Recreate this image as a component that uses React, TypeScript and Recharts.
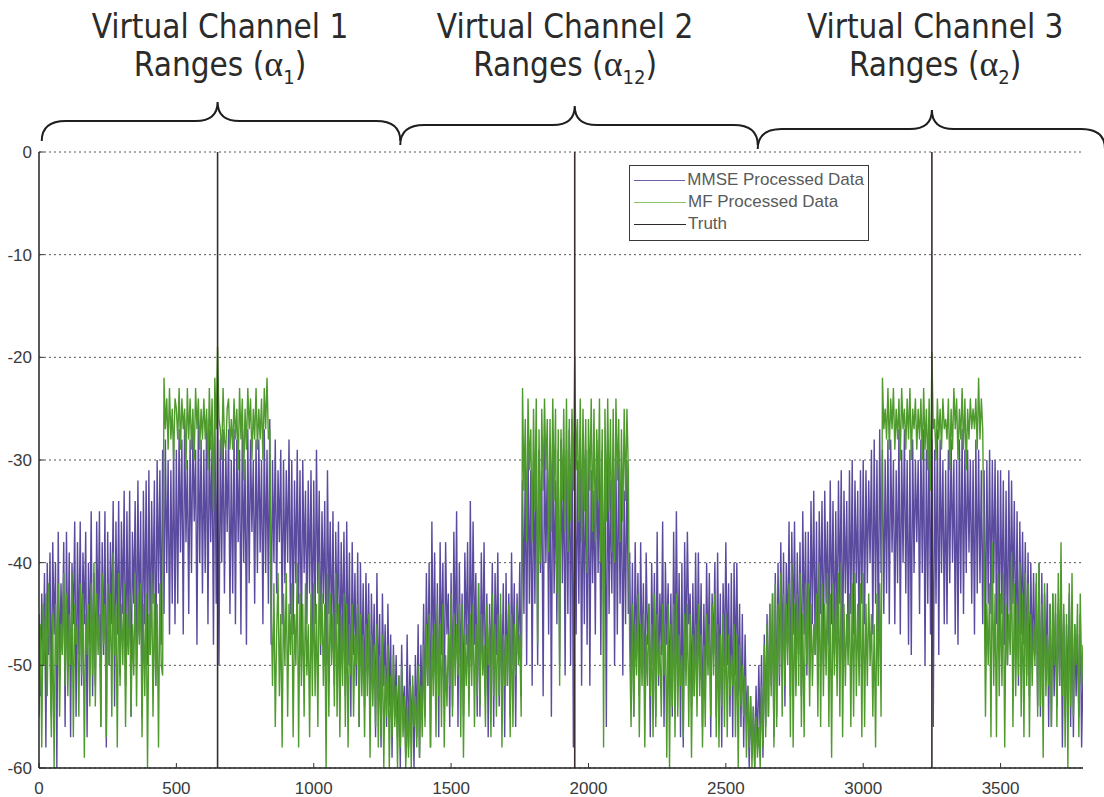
import React from "react";
import {
  LineChart,
  Line,
  XAxis,
  YAxis,
  CartesianGrid,
  ReferenceArea,
  Legend,
} from "recharts";

// range bins are sampled every 5 units, 0..3800
const sampleStep = 5;

// MMSE processed returns (dB), one row per 100 range units
const mmseVc1 = [
  -45, -53, -43, -50, -41, -58, -40, -49, -39, -55, -38, -47, -40, -60, -37, -51, -42, -48, -38, -56,
  -37, -50, -39, -57, -40, -46, -36, -55, -38, -49, -36, -52, -39, -46, -37, -57, -40, -48, -35, -53,
  -41, -52, -36, -47, -35, -56, -38, -49, -35, -58, -37, -50, -38, -46, -34, -54, -36, -47, -34, -51,
  -36, -45, -33, -52, -35, -48, -33, -55, -37, -44, -34, -50, -32, -47, -35, -55, -33, -46, -32, -50,
  -31, -49, -34, -44, -32, -52, -30, -43, -31, -48, -29, -45, -28, -41, -30, -47, -31, -44, -28, -46,
  -29, -44, -27, -39, -28, -47, -26, -38, -30, -45, -28, -41, -27, -36, -29, -48, -26, -40, -28, -43,
  -29, -41, -26, -46, -27, -38, -28, -48, -25, -44, -26, -50, -28, -40, -27, -43, -29, -37, -27, -45,
  -30, -43, -27, -46, -28, -38, -29, -47, -27, -40, -30, -48, -27, -42, -28, -37, -30, -44, -28, -41,
  -28, -39, -30, -46, -27, -41, -29, -44, -26, -48, -30, -40, -28, -43, -31, -38, -29, -46, -30, -42,
  -31, -40, -28, -45, -30, -47, -32, -42, -29, -44, -31, -49, -30, -41, -33, -46, -32, -43, -31, -48,
  -32, -46, -29, -43, -33, -49, -35, -44, -34, -50, -31, -45, -36, -48, -35, -52, -37, -46, -36, -51,
  -38, -48, -37, -53, -36, -50, -39, -55, -38, -49, -41, -52, -39, -56, -40, -51, -42, -54, -41, -50,
  -42, -55, -43, -51, -44, -57, -41, -53, -45, -58, -43, -52, -46, -56, -44, -54, -47, -59, -48, -55,
];
const mmseVc2 = [
  -49, -57, -51, -60, -48, -55, -52, -59, -47, -58, -50, -56, -52, -60, -49, -57, -46, -59, -48, -55,
  -44, -55, -41, -52, -40, -58, -36, -50, -39, -53, -42, -57, -38, -49, -40, -54, -38, -47, -43, -56,
  -41, -54, -37, -49, -35, -56, -40, -51, -43, -55, -39, -48, -38, -53, -34, -50, -36, -48, -41, -55,
  -42, -55, -39, -50, -38, -53, -43, -57, -44, -51, -40, -56, -41, -49, -39, -54, -45, -52, -42, -57,
  -41, -52, -43, -55, -39, -50, -42, -56, -43, -49, -40, -53, -32, -45, -30, -50, -28, -44, -31, -52,
  -30, -44, -27, -50, -29, -41, -31, -53, -28, -40, -30, -47, -29, -55, -27, -43, -32, -46, -29, -50,
  -28, -42, -30, -51, -29, -45, -27, -50, -26, -58, -29, -47, -30, -44, -28, -52, -31, -46, -29, -48,
  -29, -52, -31, -42, -33, -47, -28, -41, -30, -49, -29, -44, -31, -56, -28, -45, -32, -43, -30, -50,
  -30, -47, -29, -44, -31, -51, -33, -46, -30, -45, -39, -52, -40, -55, -38, -49, -41, -53, -38, -50,
  -42, -54, -39, -48, -44, -57, -40, -50, -41, -55, -37, -52, -43, -49, -36, -56, -40, -48, -42, -53,
  -43, -55, -37, -51, -35, -50, -41, -57, -40, -58, -38, -49, -37, -46, -43, -54, -42, -53, -39, -51,
  -39, -51, -42, -56, -44, -53, -40, -50, -41, -57, -43, -49, -40, -55, -39, -52, -43, -58, -42, -50,
  -38, -50, -42, -55, -41, -57, -40, -51, -40, -53, -44, -56, -45, -58, -47, -55, -52, -60, -53, -59,
];
const mmseVc3 = [
  -54, -60, -52, -58, -50, -57, -49, -59, -47, -56, -45, -55, -44, -52, -43, -57, -41, -55, -40, -52,
  -38, -50, -39, -54, -40, -48, -36, -53, -37, -47, -36, -52, -39, -49, -38, -53, -35, -47, -37, -51,
  -37, -51, -34, -46, -33, -49, -36, -52, -35, -45, -34, -50, -33, -44, -36, -48, -32, -46, -34, -49,
  -35, -47, -32, -44, -31, -50, -33, -43, -34, -48, -31, -45, -30, -47, -32, -42, -33, -49, -31, -44,
  -30, -46, -31, -42, -32, -40, -29, -47, -28, -44, -30, -48, -27, -41, -29, -45, -30, -43, -28, -46,
  -28, -39, -30, -46, -31, -42, -27, -47, -29, -40, -27, -43, -30, -48, -29, -49, -28, -41, -30, -38,
  -30, -45, -28, -41, -27, -50, -29, -44, -26, -47, -28, -56, -29, -44, -27, -49, -28, -41, -30, -46,
  -31, -46, -29, -42, -28, -40, -30, -47, -30, -48, -28, -43, -27, -45, -29, -41, -29, -39, -30, -44,
  -30, -47, -28, -43, -29, -42, -31, -46, -31, -49, -30, -44, -29, -45, -30, -42, -30, -46, -31, -48,
  -31, -45, -32, -48, -33, -50, -31, -46, -32, -44, -34, -49, -35, -52, -36, -47, -37, -48, -38, -51,
  -39, -53, -40, -50, -41, -49, -42, -54, -40, -55, -41, -52, -43, -51, -42, -56, -44, -56, -43, -53,
  -45, -54, -44, -52, -42, -58, -45, -55, -46, -52, -43, -56, -44, -57, -46, -53, -47, -55, -45, -58,
  -50,
];

// matched filter returns (dB)
const mfVc1 = [
  -55, -46, -58, -44, -50, -43, -53, -42, -49, -57, -45, -60, -44, -50, -42, -55, -46, -49, -41, -52,
  -43, -53, -45, -50, -41, -57, -44, -48, -46, -55, -42, -51, -43, -59, -45, -49, -44, -54, -42, -51,
  -40, -54, -43, -49, -45, -56, -41, -48, -44, -57, -42, -50, -43, -55, -39, -49, -44, -58, -41, -52,
  -44, -50, -42, -56, -45, -49, -43, -55, -46, -51, -41, -54, -43, -48, -42, -57, -44, -53, -43, -60,
  -45, -49, -41, -55, -43, -52, -44, -58, -42, -50, -51, -22, -27, -24, -29, -23, -28, -25, -30, -24,
  -25, -28, -23, -29, -24, -27, -25, -31, -23, -28, -24, -29, -25, -30, -23, -27, -24, -29, -25, -28,
  -24, -28, -25, -31, -23, -29, -24, -35, -22, -27, -19, -26, -27, -30, -23, -28, -29, -25, -24, -29,
  -26, -29, -24, -28, -25, -31, -23, -28, -24, -32, -25, -29, -23, -27, -24, -30, -25, -28, -23, -29,
  -25, -28, -24, -30, -23, -27, -22, -28, -27, -44, -52, -42, -56, -47, -41, -53, -45, -58, -43, -50,
  -41, -55, -44, -49, -42, -57, -45, -50, -40, -58, -43, -52, -44, -55, -42, -51, -46, -57, -43, -53,
  -42, -53, -44, -56, -40, -48, -43, -52, -44, -60, -41, -55, -43, -50, -45, -54, -41, -55, -44, -57,
  -45, -52, -43, -56, -44, -58, -46, -51, -44, -55, -47, -50, -44, -56, -45, -53, -47, -57, -46, -53,
  -45, -59, -47, -54, -48, -56, -46, -58, -49, -57, -47, -60, -50, -55, -48, -60, -51, -57, -49, -56,
];
const mfVc2 = [
  -52, -60, -51, -58, -50, -57, -53, -60, -54, -59, -52, -60, -51, -56, -53, -58, -50, -59, -52, -57,
  -48, -56, -46, -52, -45, -58, -47, -53, -46, -57, -44, -53, -46, -56, -44, -58, -49, -54, -47, -52,
  -43, -55, -45, -52, -46, -51, -44, -57, -44, -59, -47, -52, -46, -55, -45, -52, -44, -56, -46, -53,
  -42, -54, -45, -51, -48, -56, -44, -50, -46, -57, -43, -53, -46, -55, -45, -53, -43, -58, -47, -52,
  -47, -52, -44, -57, -45, -56, -46, -51, -44, -50, -47, -55, -23, -33, -26, -38, -24, -31, -27, -38,
  -25, -35, -24, -48, -27, -40, -25, -33, -24, -31, -26, -39, -26, -37, -24, -34, -25, -43, -27, -52,
  -27, -34, -25, -37, -24, -39, -26, -36, -25, -33, -20, -31, -26, -36, -24, -38, -25, -35, -26, -41,
  -26, -33, -24, -37, -25, -38, -27, -34, -24, -40, -27, -58, -25, -36, -24, -35, -26, -39, -25, -40,
  -24, -32, -26, -38, -27, -36, -25, -34, -25, -31, -48, -56, -44, -55, -46, -51, -43, -57, -46, -52,
  -45, -58, -47, -52, -44, -53, -46, -57, -43, -56, -45, -51, -48, -55, -44, -51, -46, -59, -44, -60,
  -46, -54, -44, -57, -43, -55, -47, -52, -49, -57, -45, -52, -44, -56, -45, -59, -47, -53, -46, -55,
  -44, -53, -47, -58, -48, -56, -45, -51, -46, -55, -44, -51, -43, -57, -46, -58, -47, -54, -45, -56,
  -45, -57, -47, -53, -49, -52, -46, -57, -47, -60, -48, -54, -50, -55, -51, -59, -52, -58, -53, -60,
];
const mfVc3 = [
  -54, -60, -55, -59, -56, -60, -52, -58, -48, -57, -46, -55, -44, -53, -43, -58, -42, -56, -44, -51,
  -41, -55, -43, -52, -44, -50, -42, -57, -40, -58, -44, -53, -43, -52, -41, -56, -45, -57, -42, -50,
  -42, -54, -44, -52, -46, -49, -43, -55, -40, -56, -42, -53, -44, -51, -41, -56, -43, -59, -42, -51,
  -43, -53, -41, -55, -40, -57, -44, -52, -45, -50, -43, -56, -42, -55, -41, -53, -44, -52, -42, -57,
  -41, -56, -44, -52, -43, -50, -45, -55, -46, -58, -43, -52, -42, -55, -22, -27, -25, -28, -23, -29,
  -24, -27, -23, -29, -25, -28, -24, -30, -23, -27, -25, -29, -24, -28, -23, -30, -25, -27, -24, -29,
  -25, -28, -24, -30, -23, -29, -25, -31, -24, -33, -19.5, -27, -26, -30, -24, -28, -25, -29, -24, -27,
  -26, -28, -24, -31, -25, -29, -23, -27, -24, -30, -25, -28, -23, -29, -24, -31, -25, -28, -24, -27,
  -25, -27, -24, -29, -22, -28, -24, -27, -40, -55, -44, -50, -42, -57, -38, -52, -43, -57, -41, -53,
  -43, -52, -41, -58, -44, -50, -45, -49, -39, -56, -42, -53, -44, -51, -40, -55, -43, -57, -41, -52,
  -42, -57, -45, -52, -46, -50, -41, -55, -40, -54, -44, -59, -42, -53, -47, -52, -44, -56, -43, -50,
  -43, -56, -41, -52, -38, -53, -44, -58, -45, -60, -42, -54, -41, -55, -46, -50, -44, -57, -43, -52,
  -48,
];

// true target ranges, drawn as full-height spikes
const truthRanges = [650, 1950, 3250];
const truthFloor = -60;
const truthPeak = 0;

const xTicks = [0, 500, 1000, 1500, 2000, 2500, 3000, 3500];
const yTicks = [-60, -50, -40, -30, -20, -10, 0];

// virtual channel brackets drawn above the plot
const channelTitles = ["Virtual Channel 1", "Virtual Channel 2", "Virtual Channel 3"];
const channelSubscripts = ["1", "12", "2"];
const channelFrom = [10, 1315, 2616];
const channelTo = [1315, 2616, 3880];
const channelTitleAt = [659, 1915, 3262];

const legendItems = [
  { label: "MMSE Processed Data", color: "#6c5ea8" },
  { label: "MF Processed Data", color: "#8cc463" },
  { label: "Truth", color: "#2e2828" },
];

const mmse = [...mmseVc1, ...mmseVc2, ...mmseVc3];
const mf = [...mfVc1, ...mfVc2, ...mfVc3];
const rows = mmse.map((v, i) => ({ bin: i * sampleStep, mmse: v, mf: mf[i] }));

// each spike is two points at the same range, broken from the next by a null
const truthRows = truthRanges.flatMap((r) => [
  { bin: r, truth: truthFloor },
  { bin: r, truth: truthPeak },
  { bin: r, truth: null },
]);

const tickFont = { fontSize: 17, fill: "#3a3a3a", fontFamily: "Liberation Sans, Arial, sans-serif" };

function ChannelBrace(props: any) {
  const { x, y, width, height, idx } = props;
  const from = channelFrom[idx];
  const to = channelTo[idx];
  const toPx = (v: number) => x + ((v - from) / (to - from)) * width;
  const bottom = y + height;
  const tilt = idx * 4;
  const yEnd = bottom - 11 + tilt;
  const yMid = bottom - 31 + tilt;
  const yTip = bottom - 50 + tilt;
  const x0 = x;
  const x1 = x + width;
  const tx = toPx(truthRanges[idx]);
  const r = 24;
  const rt = 22;
  const d =
    `M${x0},${yEnd} Q${x0},${yMid} ${x0 + r},${yMid} L${tx - rt},${yMid} ` +
    `Q${tx},${yMid} ${tx},${yTip} Q${tx},${yMid} ${tx + rt},${yMid} ` +
    `L${x1 - r},${yMid} Q${x1},${yMid} ${x1},${yEnd}`;
  const cx = toPx(channelTitleAt[idx]);
  return (
    <g>
      <path d={d} fill="none" stroke="#1e1e1e" strokeWidth={2} />
      <text
        x={cx}
        y={bottom - 114}
        textAnchor="middle"
        fontFamily="DejaVu Sans Condensed, DejaVu Sans, sans-serif"
        fontSize={33}
        fill="#2b2b2b"
      >
        {channelTitles[idx]}
      </text>
      <text
        x={cx}
        y={bottom - 76}
        textAnchor="middle"
        fontFamily="DejaVu Sans Condensed, DejaVu Sans, sans-serif"
        fontSize={33}
        fill="#2b2b2b"
      >
        {"Ranges ("}
        <tspan fontFamily="Liberation Serif, DejaVu Serif, serif" fontSize={36}>
          α
        </tspan>
        <tspan fontSize={20} dy={8}>
          {channelSubscripts[idx]}
        </tspan>
        <tspan dy={-8}>)</tspan>
      </text>
    </g>
  );
}

function LegendBox() {
  return (
    <div
      style={{
        border: "1.5px solid #3a3a3a",
        background: "#fff",
        padding: "3px 4px 5px 4px",
        fontFamily: "Liberation Sans, Arial, sans-serif",
        fontSize: 17,
        color: "#5a5a5a",
        lineHeight: "22px",
      }}
    >
      {legendItems.map((it) => (
        <div key={it.label} style={{ display: "flex", alignItems: "center", whiteSpace: "nowrap" }}>
          <span
            style={{
              display: "inline-block",
              width: 52,
              borderTop: `1.5px solid ${it.color}`,
              marginRight: 2,
            }}
          />
          {it.label}
        </div>
      ))}
    </div>
  );
}

export default function App() {
  return (
    <div style={{ position: "absolute", left: 0, top: 0, width: 1104, height: 797, background: "#fff" }}>
      <LineChart width={1104} height={797} data={rows} margin={{ top: 152, right: 21, bottom: 0, left: 0 }}>
        <CartesianGrid vertical={false} stroke="#555" strokeDasharray="2 3" />
        <XAxis
          dataKey="bin"
          type="number"
          domain={[0, 3800]}
          ticks={xTicks}
          height={29}
          tick={tickFont}
          tickSize={-5}
          tickMargin={19}
          tickLine={{ stroke: "#333" }}
          axisLine={{ stroke: "#222", strokeWidth: 1.5 }}
          allowDataOverflow
        />
        <YAxis
          type="number"
          domain={[-60, 0]}
          ticks={yTicks}
          width={39}
          tick={tickFont}
          tickSize={-5}
          tickMargin={12}
          tickLine={{ stroke: "#333" }}
          axisLine={{ stroke: "#222", strokeWidth: 1.5 }}
          allowDataOverflow
        />
        <Line
          dataKey="mmse"
          type="linear"
          stroke="#5b4b9f"
          strokeWidth={1.4}
          dot={false}
          isAnimationActive={false}
        />
        <Line
          dataKey="mf"
          type="linear"
          stroke="#4e9a2d"
          strokeWidth={1.4}
          dot={false}
          isAnimationActive={false}
        />
        <Line
          data={truthRows}
          dataKey="truth"
          type="linear"
          stroke="#3a2e2e"
          strokeWidth={1.6}
          dot={false}
          connectNulls={false}
          isAnimationActive={false}
        />
        {channelTitles.map((t, i) => (
          <ReferenceArea
            key={t}
            x1={channelFrom[i]}
            x2={channelTo[i]}
            y1={0}
            y2={5}
            ifOverflow="visible"
            shape={(p: any) => <ChannelBrace {...p} idx={i} />}
          />
        ))}
        <Legend
          layout="horizontal"
          verticalAlign="middle"
          align="center"
          content={<LegendBox />}
          wrapperStyle={{ top: 165, left: 629, width: 240 }}
        />
      </LineChart>
    </div>
  );
}
